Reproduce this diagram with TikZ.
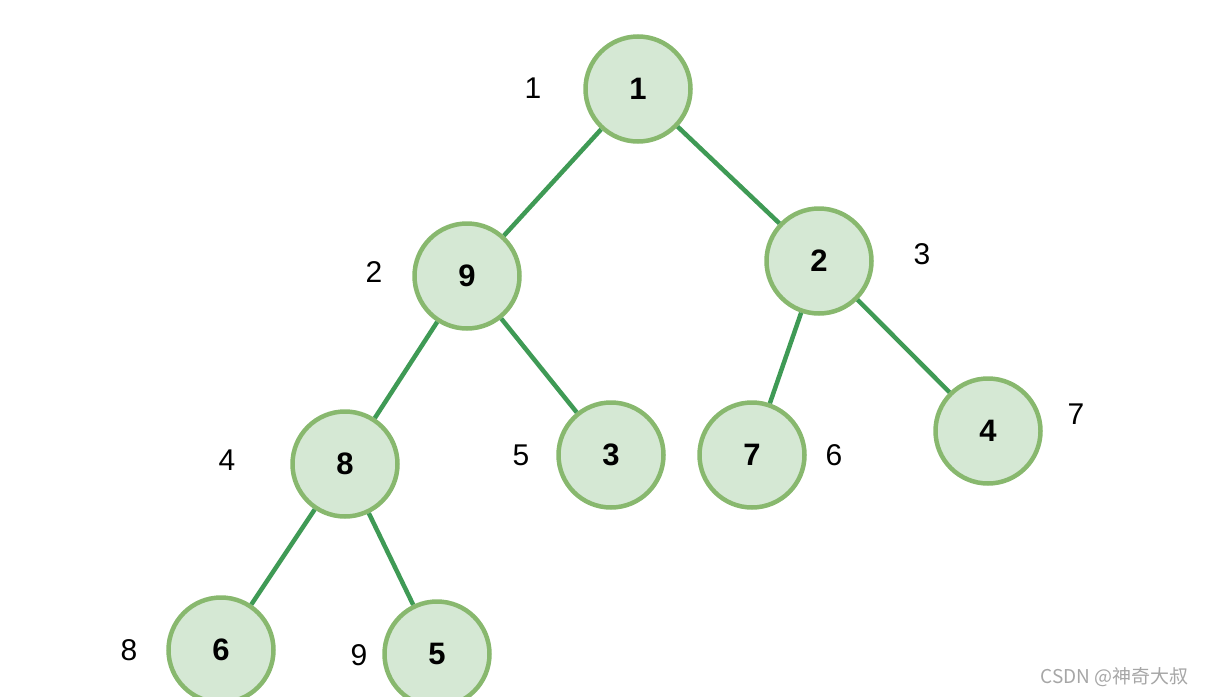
\documentclass[tikz,border=0pt]{standalone}
\usepackage{fontspec}
\setmainfont{Liberation Sans}
\newfontfamily\cjk{Noto Sans CJK SC}
\definecolor{nodefill}{HTML}{D5E8D4}
\definecolor{nodeborder}{HTML}{88B86E}
\definecolor{edgecol}{HTML}{3F9A55}
\definecolor{wmcol}{HTML}{A6A6A6}
\begin{document}
\begin{tikzpicture}[x=1pt,y=-1pt,
  heapnode/.style={circle, fill=nodefill, draw=nodeborder, line width=4.5pt, minimum size=105pt, inner sep=0pt, font=\fontsize{31}{31}\selectfont\bfseries},
  idxlabel/.style={font=\fontsize{30}{30}\selectfont},
  treeedge/.style={draw=edgecol, line width=4.5pt}]
\useasboundingbox (0,0) rectangle (1206,696);
\begin{scope}
\clip (0,0) rectangle (1206,696);
\node[heapnode] (n1) at (638,89) {1};
\node[heapnode] (n9) at (467,276) {9};
\node[heapnode] (n2) at (819,261) {2};
\node[heapnode] (n8) at (345,464) {8};
\node[heapnode] (n3) at (611,455) {3};
\node[heapnode] (n7) at (752,455) {7};
\node[heapnode] (n4) at (988,431) {4};
\node[heapnode] (n6) at (221,650) {6};
\node[heapnode] (n5) at (437,654) {5};
\path[treeedge] (n1) -- (n9);
\path[treeedge] (n1) -- (n2);
\path[treeedge] (n9) -- (n8);
\path[treeedge] (n9) -- (n3);
\path[treeedge] (n2) -- (n7);
\path[treeedge] (n2) -- (n4);
\path[treeedge] (n8) -- (n6);
\path[treeedge] (n8) -- (n5);
\end{scope}
\node[idxlabel] (l1) at (533,88) {1};
\node[idxlabel] (l2) at (374,272) {2};
\node[idxlabel] (l3) at (922,254) {3};
\node[idxlabel] (l4) at (227,460) {4};
\node[idxlabel] (l5) at (521,455) {5};
\node[idxlabel] (l6) at (834,455) {6};
\node[idxlabel] (l7) at (1076,414) {7};
\node[idxlabel] (l8) at (129,650) {8};
\node[idxlabel] (l9) at (359,655) {9};
\node[text=wmcol, font=\cjk\fontsize{19}{19}\selectfont, anchor=east] (wm) at (1192,677) {CSDN @神奇大叔};
\end{tikzpicture}
\end{document}
